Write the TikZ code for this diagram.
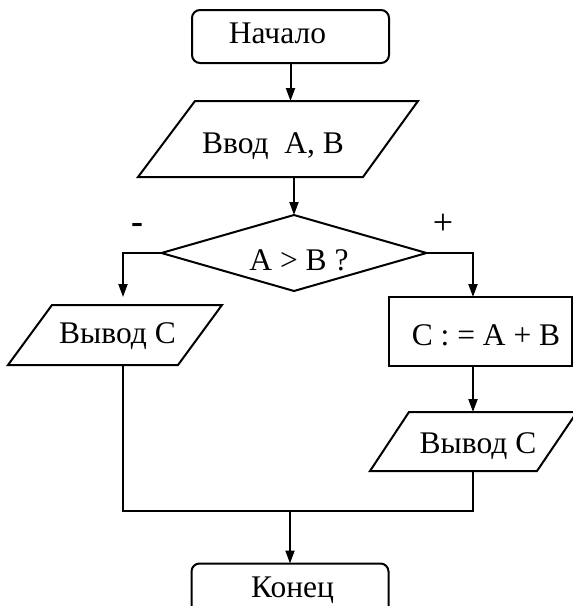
\documentclass[tikz,border=0pt]{standalone}
\usepackage{fontspec}
\setmainfont{Liberation Serif}
\usetikzlibrary{shapes.geometric,arrows.meta}
\begin{document}
\begin{tikzpicture}[x=1pt,y=-1pt,line width=2pt,
  box/.style={draw,inner sep=0pt,outer sep=0pt},
  term/.style={box,rounded corners=8pt,minimum width=197pt,minimum height=53pt},
  proc/.style={box,minimum width=183pt,minimum height=69pt},
  ioframe/.style={inner sep=0pt,outer sep=0pt},
  cond/.style={box,diamond,minimum width=265pt,minimum height=76pt},
  txt/.style={anchor=base,inner sep=0pt,font=\fontsize{31.5}{36}\selectfont},
  sign/.style={anchor=base,inner sep=0pt,font=\fontsize{36}{42}\selectfont},
  flow/.style={-{Triangle[length=13pt,width=9pt]}}]
\useasboundingbox (0,0) rectangle (573,606);
\clip (0,0) rectangle (573,606);

% blocks
\node[term] (start) at (290.5,36.5) {};
\node[ioframe,minimum width=280pt,minimum height=76pt] (input) at (278,139) {};
\draw (195,101) -- (418,101) -- (363,177) -- (138,177) -- cycle;
\node[cond] (dec) at (294,253) {};
\node[ioframe,minimum width=214pt,minimum height=60pt] (outL) at (115,335) {};
\draw (52,305) -- (222,305) -- (178,365) -- (8,365) -- cycle;
\node[proc] (calc) at (480.5,331.5) {};
\node[ioframe,minimum width=206pt,minimum height=59pt] (outR) at (473,441.5) {};
\draw (409,412) -- (577,412) -- (537,471) -- (370,471) -- cycle;
\node[term] (fin) at (290,590) {};

% labels
\node[txt] (tStart) at (277.5,43) {Начало};
\node[txt] (tInput) at (273,153) {Ввод\ \ A, B};
\node[txt] (tDec) at (299,270) {A > B ?};
\node[txt] (tOutL) at (117.5,343) {Вывод C};
\node[txt] (tCalc) at (486,345) {C : = A + B};
\node[txt] (tOutR) at (478,453) {Вывод C};
\node[txt] (tFin) at (292.5,597) {Конец};
\node[sign] (no) at (137,233) {\textbf{-}};
\node[sign] (yes) at (443,234) {+};

% connectors
\coordinate (lcol) at (123,305);
\coordinate (mL) at (123,511);
\draw[flow] (start.south) -- (start.south |- input.north);
\draw[flow] (dec.north |- input.south) -- (dec.north);
\draw[flow,shorten >=8pt] (dec.west) -| (lcol);
\draw[flow] (dec.east) -| (outR.north |- calc.north);
\draw[flow] (calc.south -| outR.north) -- (outR.north);
\draw (lcol |- outL.south) -- (mL) -- (mL -| outR.south) -- (outR.south);
\draw[flow] (mL -| fin.north) -- (fin.north);
\end{tikzpicture}
\end{document}
